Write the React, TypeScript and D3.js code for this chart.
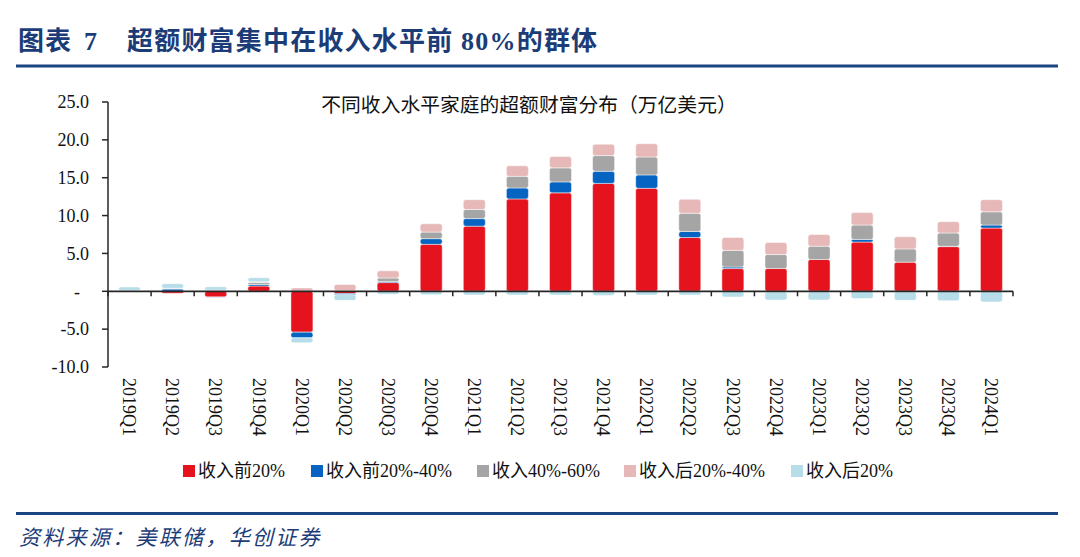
import React from "react";
import * as d3 from "d3";

const categories = [
  "2019Q1", "2019Q2", "2019Q3", "2019Q4", "2020Q1", "2020Q2", "2020Q3", "2020Q4",
  "2021Q1", "2021Q2", "2021Q3", "2021Q4", "2022Q1", "2022Q2", "2022Q3", "2022Q4",
  "2023Q1", "2023Q2", "2023Q3", "2023Q4", "2024Q1",
];
const top20 = [0.0, -0.25, -0.75, 0.7, -5.4, -0.3, 1.15, 6.2, 8.6, 12.2, 13.0, 14.25, 13.6, 7.1, 3.0, 3.0, 4.2, 6.5, 3.85, 5.9, 8.35];
const top20to40 = [0.02, 0.3, -0.05, 0.2, -0.75, -0.15, 0.15, 0.75, 1.0, 1.45, 1.45, 1.6, 1.77, 0.8, 0.2, -0.1, -0.1, 0.35, -0.1, 0.05, 0.4];
const mid40to60 = [0.05, 0.05, 0.1, 0.25, 0.05, 0.1, 0.45, 0.87, 1.2, 1.53, 1.85, 2.07, 2.37, 2.4, 2.2, 1.85, 1.75, 1.9, 1.75, 1.75, 1.75];
const bottom20to40 = [0.05, 0.05, 0.05, 0.1, 0.4, 0.8, 0.95, 1.1, 1.3, 1.4, 1.5, 1.5, 1.75, 1.85, 1.7, 1.6, 1.55, 1.65, 1.6, 1.5, 1.6];
const bottom20 = [0.45, 0.6, 0.45, 0.55, -0.65, -0.75, -0.4, -0.45, -0.5, -0.5, -0.5, -0.55, -0.5, -0.5, -0.75, -1.05, -1.05, -0.95, -1.1, -1.25, -1.4];

const seriesNames = ["收入前20%", "收入前20%-40%", "收入40%-60%", "收入后20%-40%", "收入后20%"];
const seriesValues = [top20, top20to40, mid40to60, bottom20to40, bottom20];
const colors = ["#E5131D", "#0563C1", "#A5A5A5", "#E6B9B8", "#B7DEE8"];
const yTicks = [-10, -5, 0, 5, 10, 15, 20, 25];

const mainTitleA = "图表";
const mainTitleB = "7";
const mainTitleC = "超额财富集中在收入水平前 80%的群体";
const chartTitle = "不同收入水平家庭的超额财富分布（万亿美元）";
const sourceText = "资料来源：美联储，华创证券";

const W = 1080;
const H = 557;
const plotLeft = 108;
const plotRight = 1013;
const plotTop = 102;
const plotBottom = 367;
const legendX = [183, 311, 477, 624, 791];
const serif = "'Liberation Serif', 'Times New Roman', 'Noto Sans CJK SC', serif";
const titleBlue = "#1C3C78";

export default function App() {
  const keys = seriesNames.map((_, i) => "s" + i);
  const rows = categories.map((c, ci) => {
    const r: any = { cat: c };
    keys.forEach((k, si) => (r[k] = seriesValues[si][ci]));
    return r;
  });
  const stacked = d3.stack<any>().keys(keys).offset(d3.stackOffsetDiverging).order(d3.stackOrderNone)(rows);

  const x = d3.scaleBand<string>().domain(categories).range([plotLeft, plotRight]).paddingInner(0.49).paddingOuter(0.245);
  const y = d3.scaleLinear().domain([-10, 25]).range([plotBottom, plotTop]);
  const step = x.step();
  const y0 = y(0);

  return (
    <svg width={W} height={H} style={{ position: "absolute", left: 0, top: 0, background: "#fff" }}>
      {/* header */}
      <text x={18} y={50} fontFamily="'Noto Sans CJK SC', sans-serif" fontWeight={700} fontSize={26} fill={titleBlue} letterSpacing={1}>{mainTitleA}</text>
      <text x={84} y={50} fontFamily={serif} fontWeight={700} fontSize={26} fill={titleBlue}>{mainTitleB}</text>
      <text x={127} y={50} fontFamily={serif} fontWeight={700} fontSize={26} fill={titleBlue} letterSpacing={1.2}>{mainTitleC}</text>
      <rect x={16} y={64.5} width={1042} height={3} fill="#1A4482" />

      {/* chart title */}
      <text x={529} y={112} textAnchor="middle" fontFamily="'Noto Sans CJK SC', sans-serif" fontSize={19.8} fill="#111">{chartTitle}</text>

      {/* bars */}
      {stacked.map((s, si) => (
        <g key={si} fill={colors[si]}>
          {s.map((d, ci) => {
            const a = y(d[0]);
            const b = y(d[1]);
            const h = Math.abs(a - b);
            if (h < 0.01) return null;
            return (
              <rect key={ci} x={x(categories[ci])!} width={x.bandwidth()} y={Math.min(a, b)} height={h}
                rx={2.5} stroke="#fff" strokeOpacity={0.45} strokeWidth={1} />
            );
          })}
        </g>
      ))}

      {/* y axis */}
      <line x1={plotLeft} x2={plotLeft} y1={plotTop} y2={plotBottom} stroke="#262626" strokeWidth={1.5} />
      {yTicks.map((t) => (
        <g key={t}>
          <line x1={plotLeft - 6} x2={plotLeft} y1={y(t)} y2={y(t)} stroke="#262626" strokeWidth={1.5} />
          <text x={t === 0 ? 80 : 89} y={y(t)} dy="0.35em" textAnchor="end" fontFamily={serif} fontSize={18} fill="#111">
            {t === 0 ? "-" : t.toFixed(1)}
          </text>
        </g>
      ))}

      {/* x axis */}
      <line x1={plotLeft} x2={plotRight} y1={y0} y2={y0} stroke="#262626" strokeWidth={1.8} />
      {d3.range(categories.length + 1).map((i) => (
        <line key={i} x1={plotLeft + i * step} x2={plotLeft + i * step} y1={y0} y2={y0 + 5} stroke="#262626" strokeWidth={1.5} />
      ))}
      {categories.map((c) => {
        const cx = x(c)! + x.bandwidth() / 2;
        return (
          <text key={c} transform={`translate(${cx},378) rotate(90)`} dy="0.35em" textAnchor="start" fontFamily={serif} fontSize={18} fill="#111">
            {c}
          </text>
        );
      })}

      {/* legend */}
      {seriesNames.map((n, i) => (
        <g key={n}>
          <rect x={legendX[i]} y={465} width={12} height={12} fill={colors[i]} />
          <text x={legendX[i] + 15} y={471} dy="0.36em" fontFamily={serif} fontSize={18} fill="#111">{n}</text>
        </g>
      ))}

      {/* footer */}
      <rect x={16} y={512} width={1042} height={3} fill="#1A4482" />
      <text x={19} y={545} fontFamily="'Noto Sans CJK SC', sans-serif" fontStyle="italic" fontSize={21} fill={titleBlue} letterSpacing={2.3}>{sourceText}</text>
    </svg>
  );
}
